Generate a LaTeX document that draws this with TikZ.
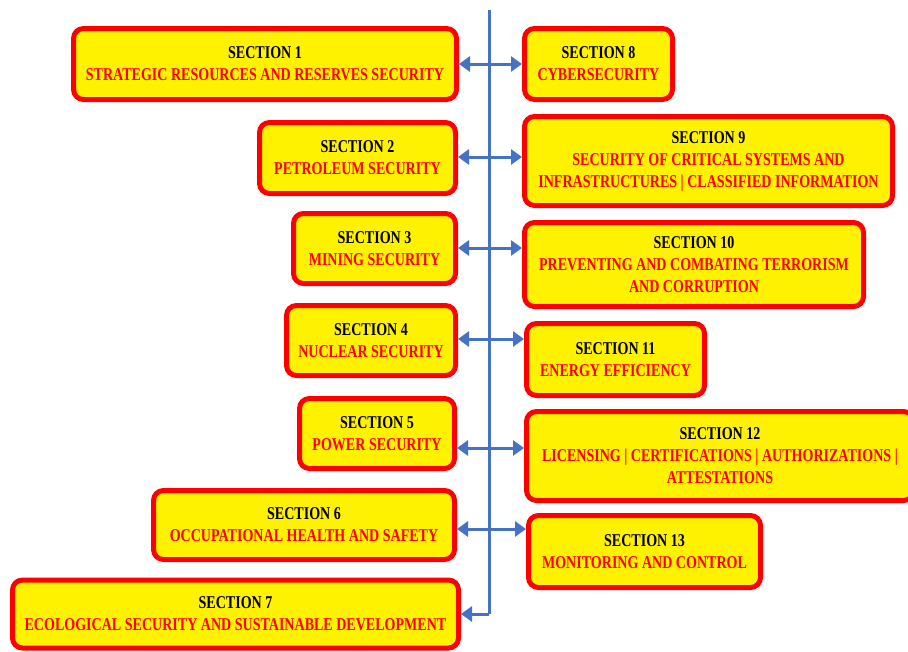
\documentclass[tikz,border=0pt]{standalone}
\usepackage{fontspec}
\setmainfont{Liberation Serif}[FakeStretch=0.78]
\usetikzlibrary{arrows.meta}
\definecolor{spine}{RGB}{68,114,196}
\begin{document}
\begin{tikzpicture}[x=1pt,y=-1pt,
  sec/.style={draw=red,line width=5pt,fill=yellow,rounded corners=10pt,
    align=center,font=\fontsize{18}{22}\selectfont\bfseries,inner sep=2pt},
  link/.style={draw=spine,line width=3pt,{Triangle[length=11pt,width=15pt]}-{Triangle[length=11pt,width=15pt]}}]
\clip (0,0) rectangle (908,651);
\fill[white] (0,0) rectangle (908,651);

\draw[spine,line width=3pt] (489,10) -- (489,614);

\node (S1) at (265,64) [sec,minimum width=383pt,minimum height=71pt] {SECTION 1\\\color{red}STRATEGIC RESOURCES AND RESERVES SECURITY};
\node (S8) at (598.5,64) [sec,minimum width=148pt,minimum height=71pt] {SECTION 8\\\color{red}CYBERSECURITY};
\coordinate (J1) at (489,64);
\draw[link] (S1.east |- J1) -- (S8.west |- J1);

\node (S2) at (357.5,158) [sec,minimum width=196pt,minimum height=71pt] {SECTION 2\\\color{red}PETROLEUM SECURITY};
\node (S9) at (708.5,161) [sec,minimum width=368pt,minimum height=89pt] {SECTION 9\\\color{red}SECURITY OF CRITICAL SYSTEMS AND\\\color{red}INFRASTRUCTURES | CLASSIFIED INFORMATION};
\coordinate (J2) at (489,157);
\draw[link] (S2.east |- J2) -- (S9.west |- J2);

\node (S3) at (374.5,248.5) [sec,minimum width=162pt,minimum height=70pt] {SECTION 3\\\color{red}MINING SECURITY};
\node (S10) at (694,264.5) [sec,minimum width=339pt,minimum height=84pt] {SECTION 10\\\color{red}PREVENTING AND COMBATING TERRORISM\\\color{red}AND CORRUPTION};
\coordinate (J3) at (489,248);
\draw[link] (S3.east |- J3) -- (S10.west |- J3);

\node (S4) at (371,340.5) [sec,minimum width=169pt,minimum height=70pt] {SECTION 4\\\color{red}NUCLEAR SECURITY};
\node (S11) at (615.5,359.5) [sec,minimum width=178pt,minimum height=72pt] {SECTION 11\\\color{red}ENERGY EFFICIENCY};
\coordinate (J4) at (489,339);
\draw[link] (S4.east |- J4) -- (S11.west |- J4);

\node (S5) at (377,433.5) [sec,minimum width=155pt,minimum height=70pt] {SECTION 5\\\color{red}POWER SECURITY};
\node (S12) at (720,456) [sec,minimum width=387pt,minimum height=89pt] {SECTION 12\\\color{red}LICENSING | CERTIFICATIONS | AUTHORIZATIONS |\\\color{red}ATTESTATIONS};
\coordinate (J5) at (489,448);
\draw[link] (S5.east |- J5) -- (S12.west |- J5);

\node (S6) at (304,525) [sec,minimum width=301pt,minimum height=69pt] {SECTION 6\\\color{red}OCCUPATIONAL HEALTH AND SAFETY};
\node (S13) at (644.5,551.5) [sec,minimum width=232pt,minimum height=72pt] {SECTION 13\\\color{red}MONITORING AND CONTROL};
\coordinate (J6) at (489,529);
\draw[link] (S6.east |- J6) -- (S13.west |- J6);

\node (S7) at (235.5,614) [sec,minimum width=446pt,minimum height=68pt] {SECTION 7\\\color{red}ECOLOGICAL SECURITY AND SUSTAINABLE DEVELOPMENT};
\coordinate (J7) at (489,614);
\draw[spine,line width=3pt,-{Triangle[length=11pt,width=15pt]}] (J7) -- (S7.east |- J7);
\end{tikzpicture}
\end{document}
